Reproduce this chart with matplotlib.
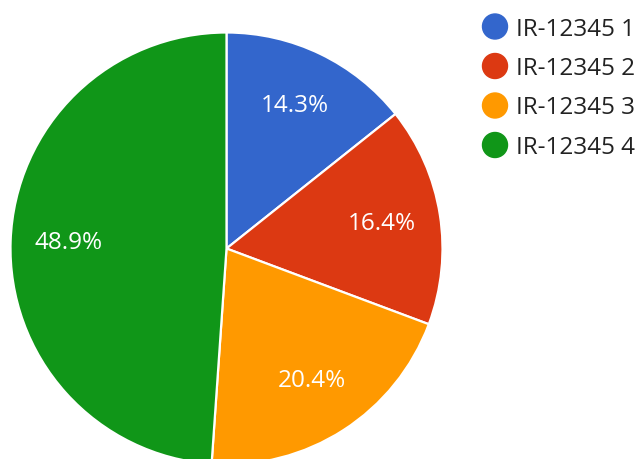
import matplotlib
matplotlib.use("Agg")
import matplotlib.pyplot as plt

labels = ["IR-12345 1", "IR-12345 2", "IR-12345 3", "IR-12345 4"]
values = [14.3, 16.4, 20.4, 48.9]
colors = ["#3366cc", "#dc3912", "#ff9900", "#109618"]

plt.rcParams['font.family'] = ['Open Sans', 'DejaVu Sans']

W, H = 641, 459
fig = plt.figure(figsize=(W / 100, H / 100), dpi=100)
cx, cy, r = 226.5, 248.5, 216
ax = fig.add_axes([(cx - r) / W, (H - cy - r) / H, 2 * r / W, 2 * r / H])
ax.set_xlim(-1, 1)
ax.set_ylim(-1, 1)
ax.set_aspect('auto')
ax.axis('off')

wedges, texts, autotexts = ax.pie(
    values, colors=colors, startangle=90, counterclock=False, radius=1,
    autopct='%1.1f%%', pctdistance=0.73,
    wedgeprops=dict(edgecolor='white', linewidth=1.6),
    textprops=dict(color='white', fontsize=17.5),
    frame=False)
ax.set_xlim(-1, 1)
ax.set_ylim(-1, 1)

# legend
lx, ly0, dy = 495, 26.5, 39.5
for i, (lab, col) in enumerate(zip(labels, colors)):
    y = ly0 + i * dy
    fig.patches.append(matplotlib.patches.Ellipse((lx / W, 1 - y / H), 25 / W, 25 / H,
                                                  transform=fig.transFigure, color=col))
    fig.text(516 / W, 1 - y / H, lab, fontsize=17.5, color='#222222',
             ha='left', va='center_baseline')

fig.savefig('out.png', dpi=100)
